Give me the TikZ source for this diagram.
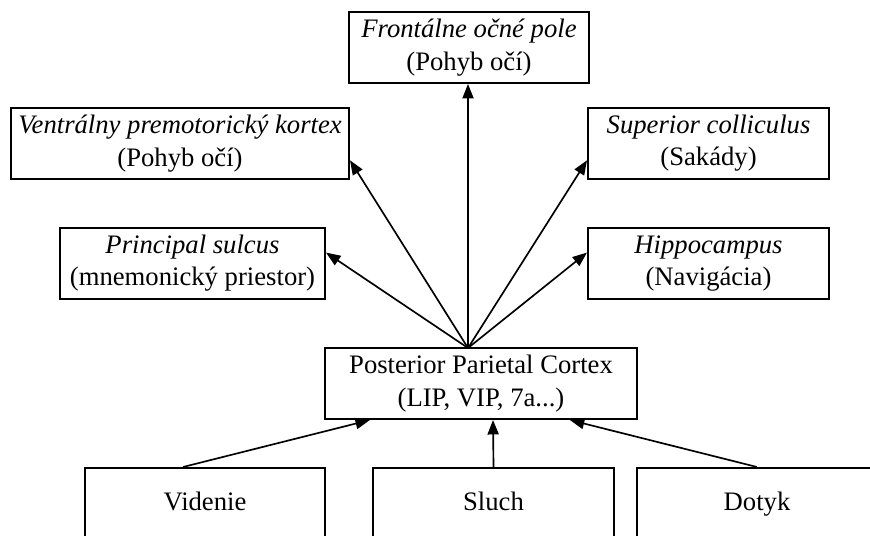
\documentclass[tikz,border=0pt]{standalone}
\usepackage{fontspec}
\setmainfont{Liberation Serif}
\usetikzlibrary{arrows.meta,calc}

\begin{document}
\begin{tikzpicture}[x=0.45pt,y=-0.45pt,
  area/.style={draw,line width=0.9pt,inner sep=0pt,align=center,
    font=\fontsize{12}{14.5}\selectfont,minimum height={71*0.45pt}},
  sense/.style={area,text height=8.5pt,text depth=2.5pt},
  link/.style={line width=0.75pt,-{Triangle[length=6.5pt,width=5pt]}}]
\clip (0,0) rectangle (870,535);

%Targets of the parietal cortex
\node[area,minimum width={240*0.45pt}] (front) at (469,47.5) {\textit{Frontálne očné pole}\\(Pohyb očí)};
\node[area,minimum width={338*0.45pt}] (vent) at (180,143.5) {\textit{Ventrálny premotorický kortex}\\(Pohyb očí)};
\node[area,minimum width={241*0.45pt}] (sup) at (708.5,143.5) {\textit{Superior colliculus}\\(Sakády)};
\node[area,minimum width={265*0.45pt}] (prin) at (192.5,263.5) {\textit{Principal sulcus}\\(mnemonický priestor)};
\node[area,minimum width={241*0.45pt}] (hipp) at (708.5,263.5) {\textit{Hippocampus}\\(Navigácia)};

%Parietal cortex
\node[area,minimum width={312*0.45pt}] (ppc) at (481,383.5) {Posterior Parietal Cortex\\(LIP, VIP, 7a...)};
\coordinate (apex) at (468,348);

%Senses
\node[sense,minimum width={240*0.45pt}] (vid) at (205,503.5) {Videnie};
\node[sense,minimum width={241*0.45pt}] (sluch) at (493.5,503.5) {Sluch};
\node[sense,minimum width={240*0.45pt}] (dotyk) at (757,503.5) {Dotyk};

%Arrows out
\draw[link] (apex) -- (front.south -| apex);
\draw[link] (apex) -- ($(vent.north east)!0.73!(vent.south east)$);
\draw[link] (apex) -- ($(sup.north west)!0.73!(sup.south west)$);
\draw[link] (apex) -- ($(prin.north east)!0.35!(prin.south east)$);
\draw[link] (apex) -- ($(hipp.north west)!0.35!(hipp.south west)$);

%Arrows in
\draw[link] ([xshift=-9.9pt]vid.north) -- ([xshift=-50pt]ppc.south);
\draw[link] (sluch.north) -- ([xshift=5.4pt]ppc.south);
\draw[link] (dotyk.north) -- ([xshift=40pt]ppc.south);

\end{tikzpicture}
\end{document}
